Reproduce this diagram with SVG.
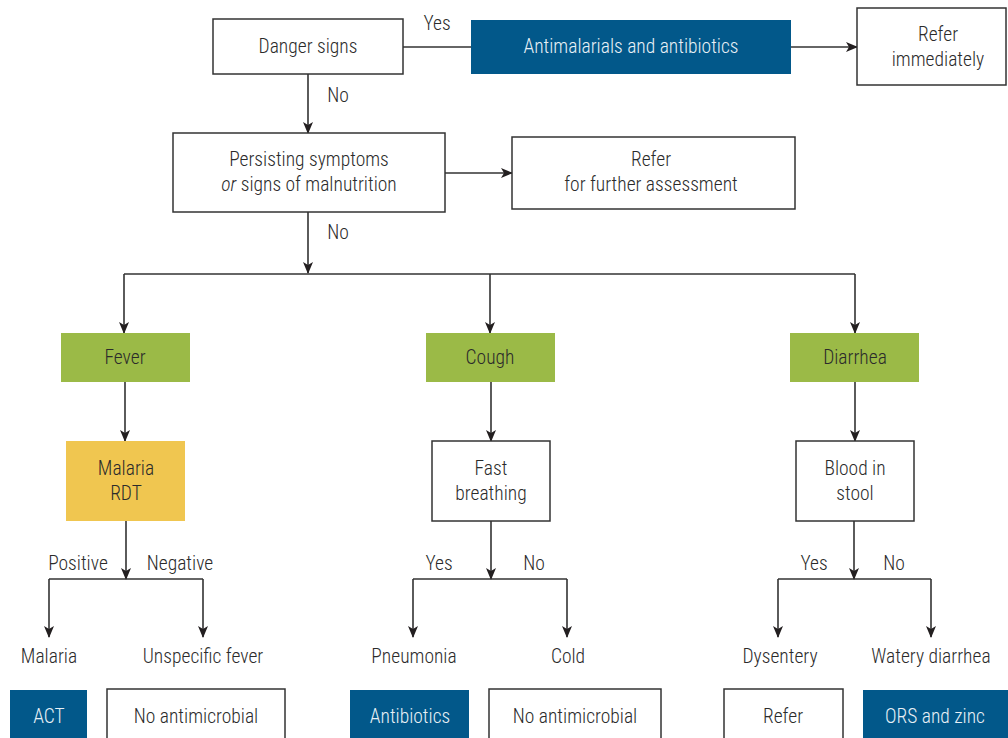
<svg xmlns="http://www.w3.org/2000/svg" width="1008" height="738" viewBox="0 0 1008 738">
<defs>
<marker id="ah" markerWidth="12" markerHeight="12" viewBox="0 0 12 12" refX="11" refY="6" orient="auto" markerUnits="userSpaceOnUse">
<path d="M0,1 L12,6 L0,11 L3,6 Z" fill="#231f20"/>
</marker>
<style>
text{font-family:"Roboto Condensed","Liberation Sans Narrow","DejaVu Sans Condensed","Liberation Sans",sans-serif;font-size:19.5px;font-weight:300;fill:#2b2b2b;text-anchor:middle}
.w{fill:#fff;stroke:#333;stroke-width:1.5}
.b{fill:#02588a}
.g{fill:#9bba47}
.y{fill:#f0c650}
.wt{fill:#e8f0f6}
.c{fill:none;stroke:#333;stroke-width:1.6}
.a{marker-end:url(#ah)}
</style>
</defs>
<rect width="1008" height="738" fill="#fff"/>
<g id="connectors">
<path class="c" d="M403,47 H471"/>
<path class="c a" d="M791,47 H857"/>
<path class="c a" d="M308,74 V133"/>
<path class="c a" d="M445,173 H512"/>
<path class="c a" d="M308,212 V273"/>
<path class="c" d="M124,274 H855"/>
<path class="c a" d="M124,274 V333"/>
<path class="c a" d="M490,274 V333"/>
<path class="c a" d="M855,274 V333"/>
<path class="c a" d="M125,382 V441"/>
<path class="c a" d="M491,382 V441"/>
<path class="c a" d="M855,382 V441"/>
<path class="c a" d="M126,521 V579"/>
<path class="c" d="M49,579 H203"/>
<path class="c a" d="M49,579 V637"/>
<path class="c a" d="M203,579 V637"/>
<path class="c a" d="M491,521 V579"/>
<path class="c" d="M413,579 H567"/>
<path class="c a" d="M413,579 V637"/>
<path class="c a" d="M567,579 V637"/>
<path class="c a" d="M854,521 V579"/>
<path class="c" d="M778,579 H931"/>
<path class="c a" d="M778,579 V637"/>
<path class="c a" d="M931,579 V637"/>
<text x="437" y="30">Yes</text>
<text x="338" y="102">No</text>
<text x="338" y="239">No</text>
<text x="78" y="570">Positive</text>
<text x="180" y="570">Negative</text>
<text x="439" y="570">Yes</text>
<text x="534" y="570">No</text>
<text x="814" y="570">Yes</text>
<text x="894" y="570">No</text>
</g>
<g id="danger"><rect class="w" x="213" y="19" width="190" height="55"/><text x="308" y="53">Danger signs</text></g>
<g id="antimal"><rect class="b" x="471" y="20" width="320" height="54"/><text class="wt" x="631" y="53">Antimalarials and antibiotics</text></g>
<g id="referimm"><rect class="w" x="857" y="8" width="149" height="77"/><text x="938" y="41">Refer</text><text x="938" y="66">immediately</text></g>
<g id="persist"><rect class="w" x="173" y="133" width="272" height="79"/><text x="309" y="166">Persisting symptoms</text><text x="309" y="191"><tspan font-style="italic">or</tspan> signs of malnutrition</text></g>
<g id="referfurther"><rect class="w" x="512" y="137" width="283" height="72"/><text x="651" y="166">Refer</text><text x="651" y="191">for further assessment</text></g>
<g id="fever"><rect class="g" x="61" y="333" width="129" height="49"/><text x="125" y="364">Fever</text></g>
<g id="cough"><rect class="g" x="426" y="333" width="129" height="49"/><text x="490" y="364">Cough</text></g>
<g id="diarrhea"><rect class="g" x="790" y="333" width="129" height="49"/><text x="855" y="364">Diarrhea</text></g>
<g id="rdt"><rect class="y" x="66" y="441" width="119" height="80"/><text x="126" y="475">Malaria</text><text x="126" y="500">RDT</text></g>
<g id="fast"><rect class="w" x="432" y="441" width="118" height="80"/><text x="491" y="475">Fast</text><text x="491" y="500">breathing</text></g>
<g id="blood"><rect class="w" x="796" y="441" width="118" height="80"/><text x="855" y="475">Blood in</text><text x="855" y="500">stool</text></g>
<g id="malaria"><text x="49" y="663">Malaria</text></g>
<g id="unspec"><text x="203" y="663">Unspecific fever</text></g>
<g id="pneumonia"><text x="414" y="663">Pneumonia</text></g>
<g id="cold"><text x="568" y="663">Cold</text></g>
<g id="dysentery"><text x="780" y="663">Dysentery</text></g>
<g id="watery"><text x="931" y="663">Watery diarrhea</text></g>
<g id="act"><rect class="b" x="10" y="690" width="77" height="50"/><text class="wt" x="49" y="723">ACT</text></g>
<g id="noam1"><rect class="w" x="107" y="689" width="178" height="55"/><text x="196" y="723">No antimicrobial</text></g>
<g id="antibio"><rect class="b" x="350" y="690" width="119" height="50"/><text class="wt" x="410" y="723">Antibiotics</text></g>
<g id="noam2"><rect class="w" x="489" y="689" width="172" height="55"/><text x="575" y="723">No antimicrobial</text></g>
<g id="refer"><rect class="w" x="724" y="689" width="119" height="55"/><text x="783" y="723">Refer</text></g>
<g id="ors"><rect class="b" x="863" y="690" width="145" height="50"/><text class="wt" x="935" y="723">ORS and zinc</text></g>
</svg>
